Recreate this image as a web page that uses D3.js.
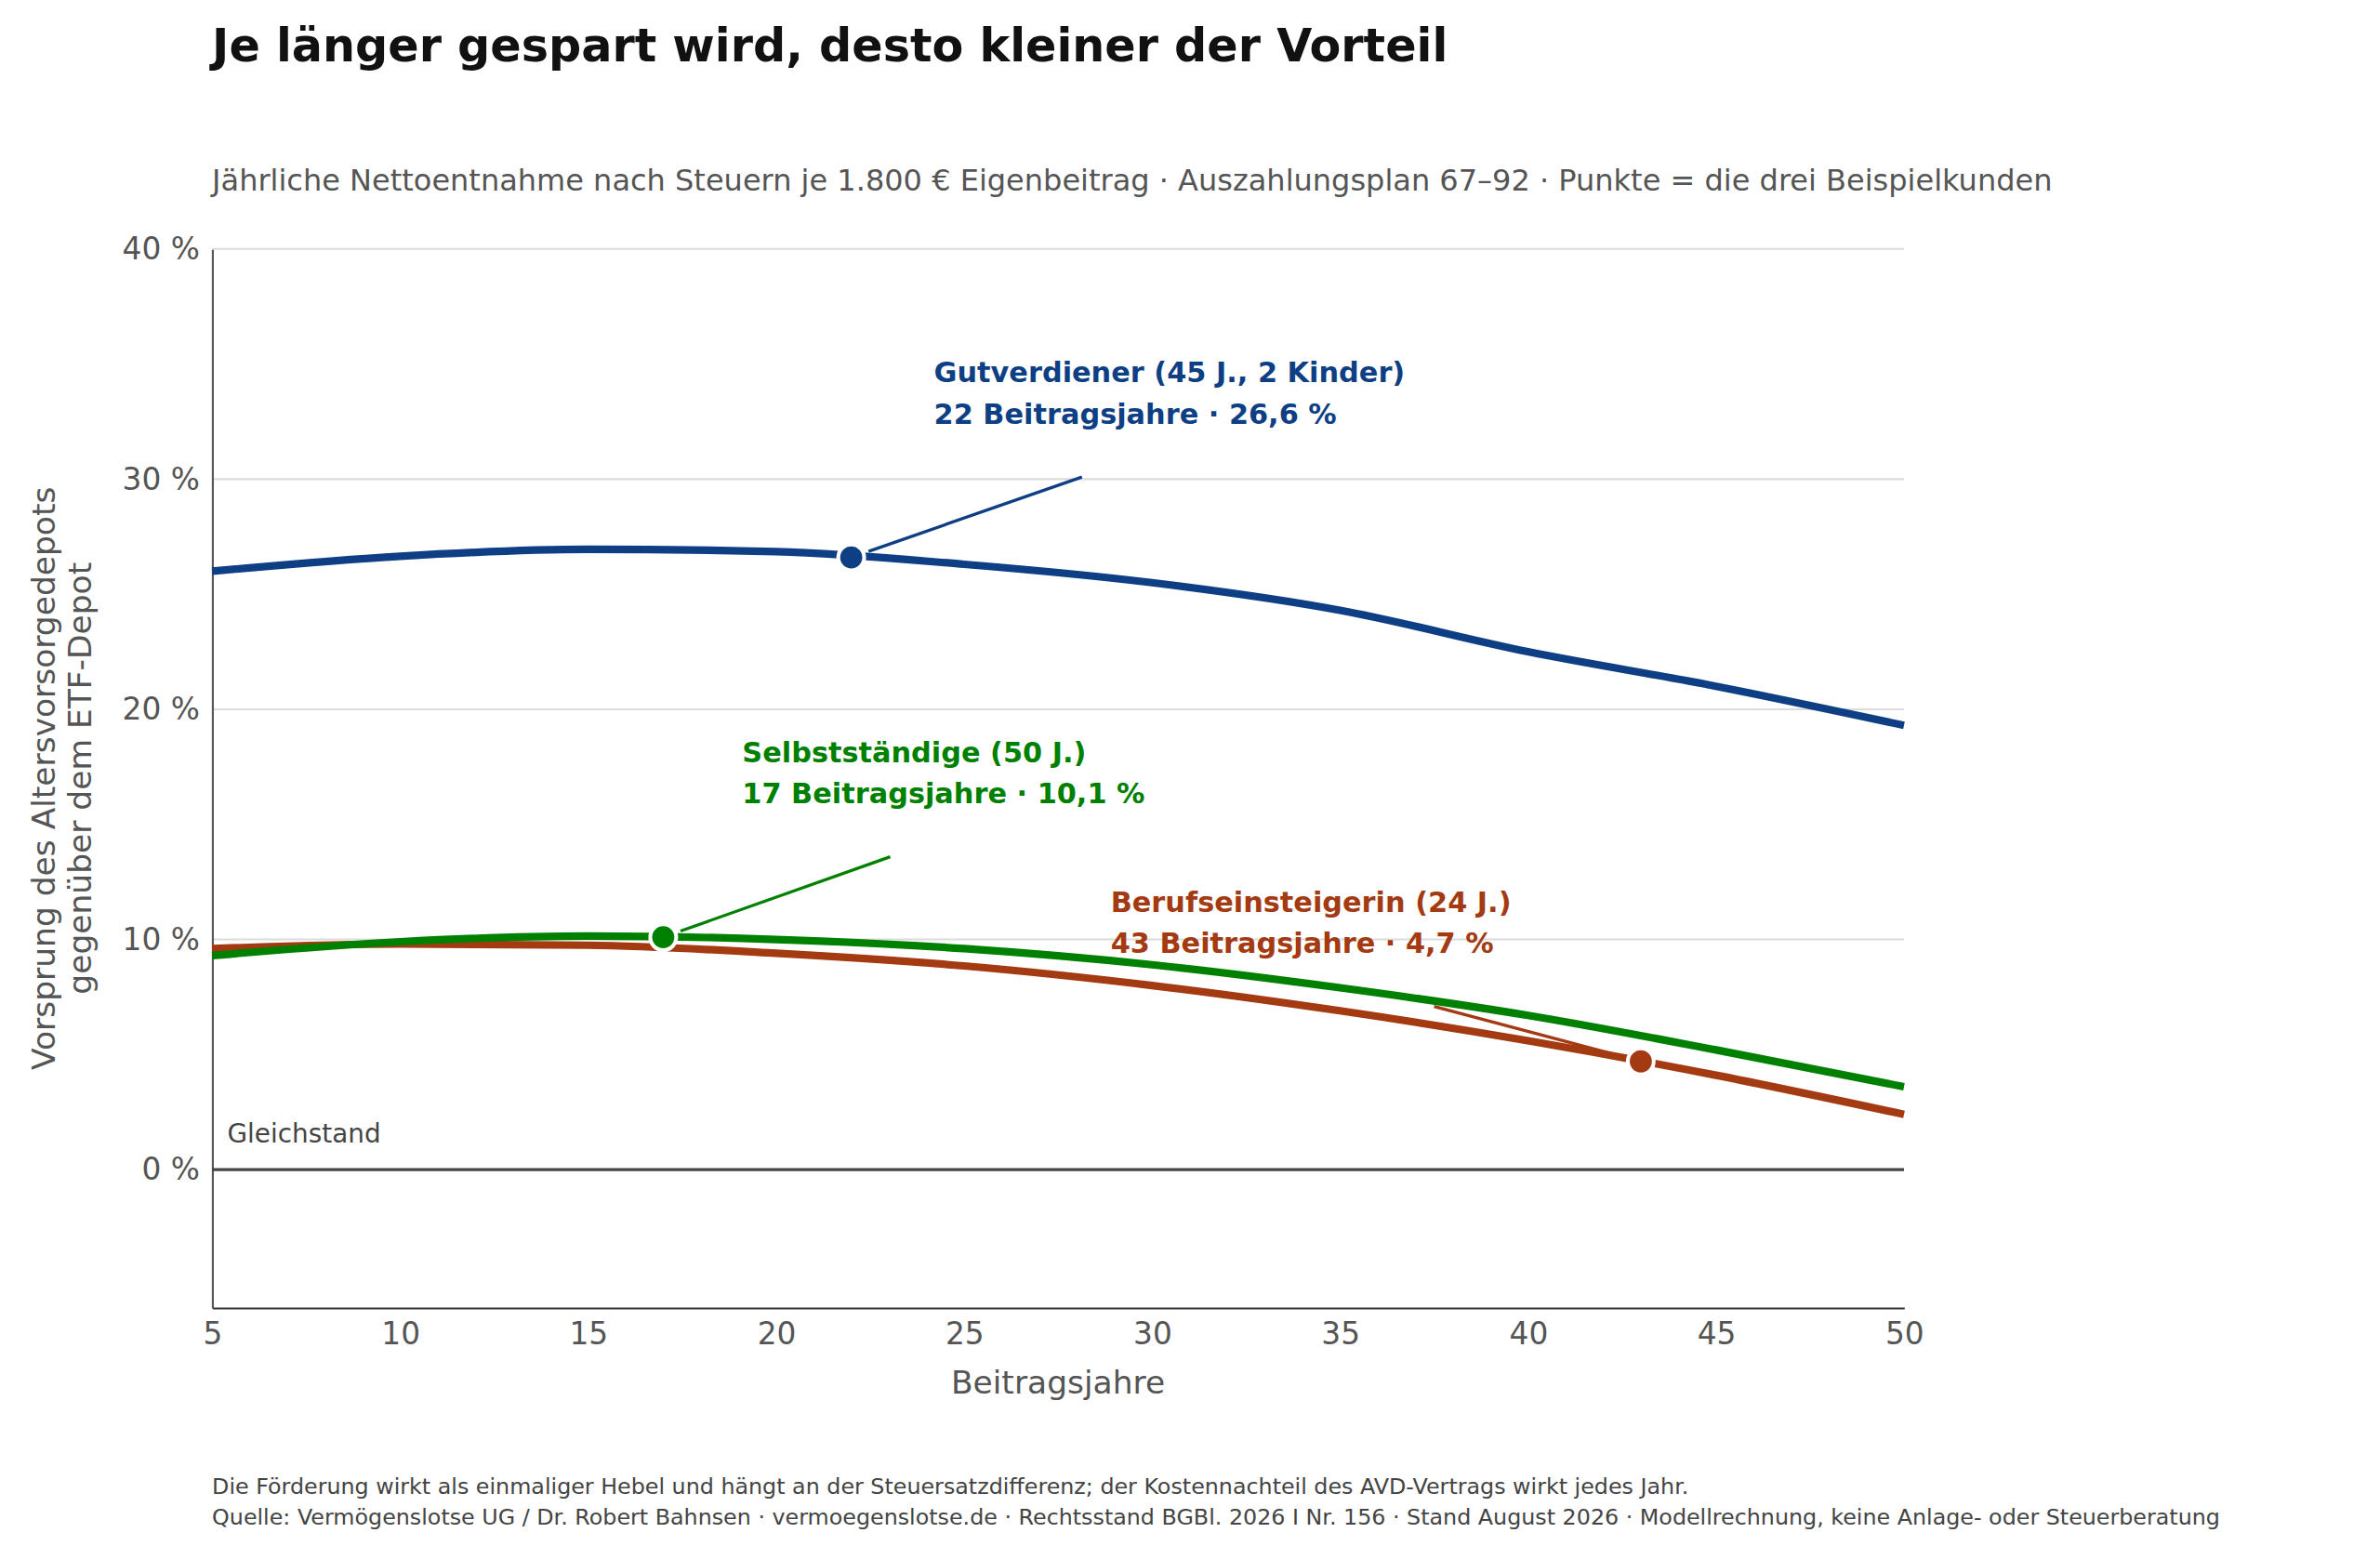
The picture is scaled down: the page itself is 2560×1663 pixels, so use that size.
<!DOCTYPE html>
<html><head><meta charset="utf-8">
<script src="https://cdn.jsdelivr.net/npm/d3@7"></script>
<style>body{margin:0;background:#fff}svg{display:block;font-family:"DejaVu Sans",sans-serif}</style>
</head><body>
<svg id="c" width="2560" height="1663" viewBox="0 0 1560 1013"></svg>
<script>
const years = [5, 10, 15, 20, 25, 30, 35, 40, 45, 50];
const gutverdiener = [26.0, 26.65, 26.95, 26.85, 26.3, 25.5, 24.3, 22.5, 21.0, 19.3];
const selbst = [9.3, 9.9, 10.15, 10.0, 9.6, 8.9, 7.9, 6.7, 5.2, 3.6];
const einsteiger = [9.6, 9.8, 9.75, 9.4, 8.85, 8.0, 6.9, 5.6, 4.1, 2.4];
const yTicks = [0, 10, 20, 30, 40];
const xTicks = [5, 10, 15, 20, 25, 30, 35, 40, 45, 50];

const series = [
  {values: gutverdiener, color: "#0e3f84", dot: [22, 26.6],
   label: ["Gutverdiener (45 J., 2 Kinder)", "22 Beitragsjahre · 26,6 %"], lx: 24.2, ly: 34.2},
  {values: einsteiger, color: "#a33a12", dot: [43, 4.7],
   label: ["Berufseinsteigerin (24 J.)", "43 Beitragsjahre · 4,7 %"], lx: 28.9, ly: 11.2},
  {values: selbst, color: "#008000", dot: [17, 10.1],
   label: ["Selbstständige (50 J.)", "17 Beitragsjahre · 10,1 %"], lx: 19.1, ly: 17.7}
];

const svg = d3.select("#c");
const m = {left: 139, right: 312, top: 163, bottom: 156};
const x = d3.scaleLinear().domain([5, 50]).range([m.left, 1560 - m.right]);
const y = d3.scaleLinear().domain([-6, 40]).range([1013 - m.bottom, m.top]);

// grid
svg.append("g").selectAll("line").data(yTicks.filter(d => d !== 0)).join("line")
  .attr("x1", x(5)).attr("x2", x(50)).attr("y1", d => y(d)).attr("y2", d => y(d))
  .attr("stroke", "#dcdcdc").attr("stroke-width", 1.3);

// axes
const xAxis = svg.append("g").attr("transform", `translate(0,${y(-6)})`)
  .call(d3.axisBottom(x).tickValues(xTicks).tickSize(0).tickPadding(10));
const yAxis = svg.append("g").attr("transform", `translate(${x(5)},0)`)
  .call(d3.axisLeft(y).tickValues(yTicks).tickSize(0).tickPadding(8).tickFormat(d => d + " %"));
[xAxis, yAxis].forEach(a => {
  a.select(".domain").attr("stroke", "#555").attr("stroke-width", 1.3);
  a.selectAll("text").attr("font-size", 20).attr("fill", "#555").attr("font-family", "DejaVu Sans");
});
xAxis.select(".domain").attr("stroke", "#333");

svg.append("line").attr("x1", x(5)).attr("x2", x(50)).attr("y1", y(0)).attr("y2", y(0))
  .attr("stroke", "#444").attr("stroke-width", 2);
svg.append("text").attr("x", x(5) + 10).attr("y", y(0) - 18).attr("font-size", 17).attr("fill", "#444").text("Gleichstand");

const line = d3.line().x((d, i) => x(years[i])).y(d => y(d)).curve(d3.curveMonotoneX);
series.forEach(s => {
  svg.append("path").attr("d", line(s.values)).attr("fill", "none")
    .attr("stroke", s.color).attr("stroke-width", 5);
});
series.forEach(s => {
  const cx = x(s.dot[0]), cy = y(s.dot[1]);
  const lx = x(s.lx), ly = y(s.ly);
  // connector from below label to dot
  const ex = s.dot[0] === 43 ? lx + 212 : lx + 97;
  const ey = ly + 62;
  const dx = cx - ex, dy = cy - ey, len = Math.hypot(dx, dy);
  svg.append("line").attr("x1", ex).attr("y1", ey)
    .attr("x2", cx - dx / len * 12).attr("y2", cy - dy / len * 12)
    .attr("stroke", s.color).attr("stroke-width", 2);
  svg.append("circle").attr("cx", cx).attr("cy", cy).attr("r", 8.5)
    .attr("fill", s.color).attr("stroke", "#fff").attr("stroke-width", 2.5);
  s.label.forEach((t, i) => svg.append("text").attr("x", lx).attr("y", ly + i * 27)
    .attr("font-size", 18.5).attr("font-weight", "bold").attr("fill", s.color).text(t));
});

// titles
svg.append("text").attr("x", 139).attr("y", 40).attr("font-size", 30).attr("font-weight", "bold")
  .attr("fill", "#111").text("Je länger gespart wird, desto kleiner der Vorteil");
svg.append("text").attr("x", 139).attr("y", 125).attr("font-size", 19.5).attr("fill", "#555")
  .text("Jährliche Nettoentnahme nach Steuern je 1.800 € Eigenbeitrag · Auszahlungsplan 67–92 · Punkte = die drei Beispielkunden");
svg.append("text").attr("x", (x(5) + x(50)) / 2).attr("y", 913).attr("text-anchor", "middle")
  .attr("font-size", 21).attr("fill", "#555").text("Beitragsjahre");
const yl = svg.append("text").attr("transform", `translate(36,${y(17)}) rotate(-90)`)
  .attr("text-anchor", "middle").attr("font-size", 21).attr("fill", "#555");
yl.append("tspan").attr("x", 0).attr("dy", 0).text("Vorsprung des Altersvorsorgedepots");
yl.append("tspan").attr("x", 0).attr("dy", 24).text("gegenüber dem ETF-Depot");
svg.append("text").attr("x", 139).attr("y", 979).attr("font-size", 14.5).attr("fill", "#444")
  .text("Die Förderung wirkt als einmaliger Hebel und hängt an der Steuersatzdifferenz; der Kostennachteil des AVD-Vertrags wirkt jedes Jahr.");
svg.append("text").attr("x", 139).attr("y", 999).attr("font-size", 14.5).attr("fill", "#444")
  .text("Quelle: Vermögenslotse UG / Dr. Robert Bahnsen · vermoegenslotse.de · Rechtsstand BGBl. 2026 I Nr. 156 · Stand August 2026 · Modellrechnung, keine Anlage- oder Steuerberatung");
</script>
</body></html>
